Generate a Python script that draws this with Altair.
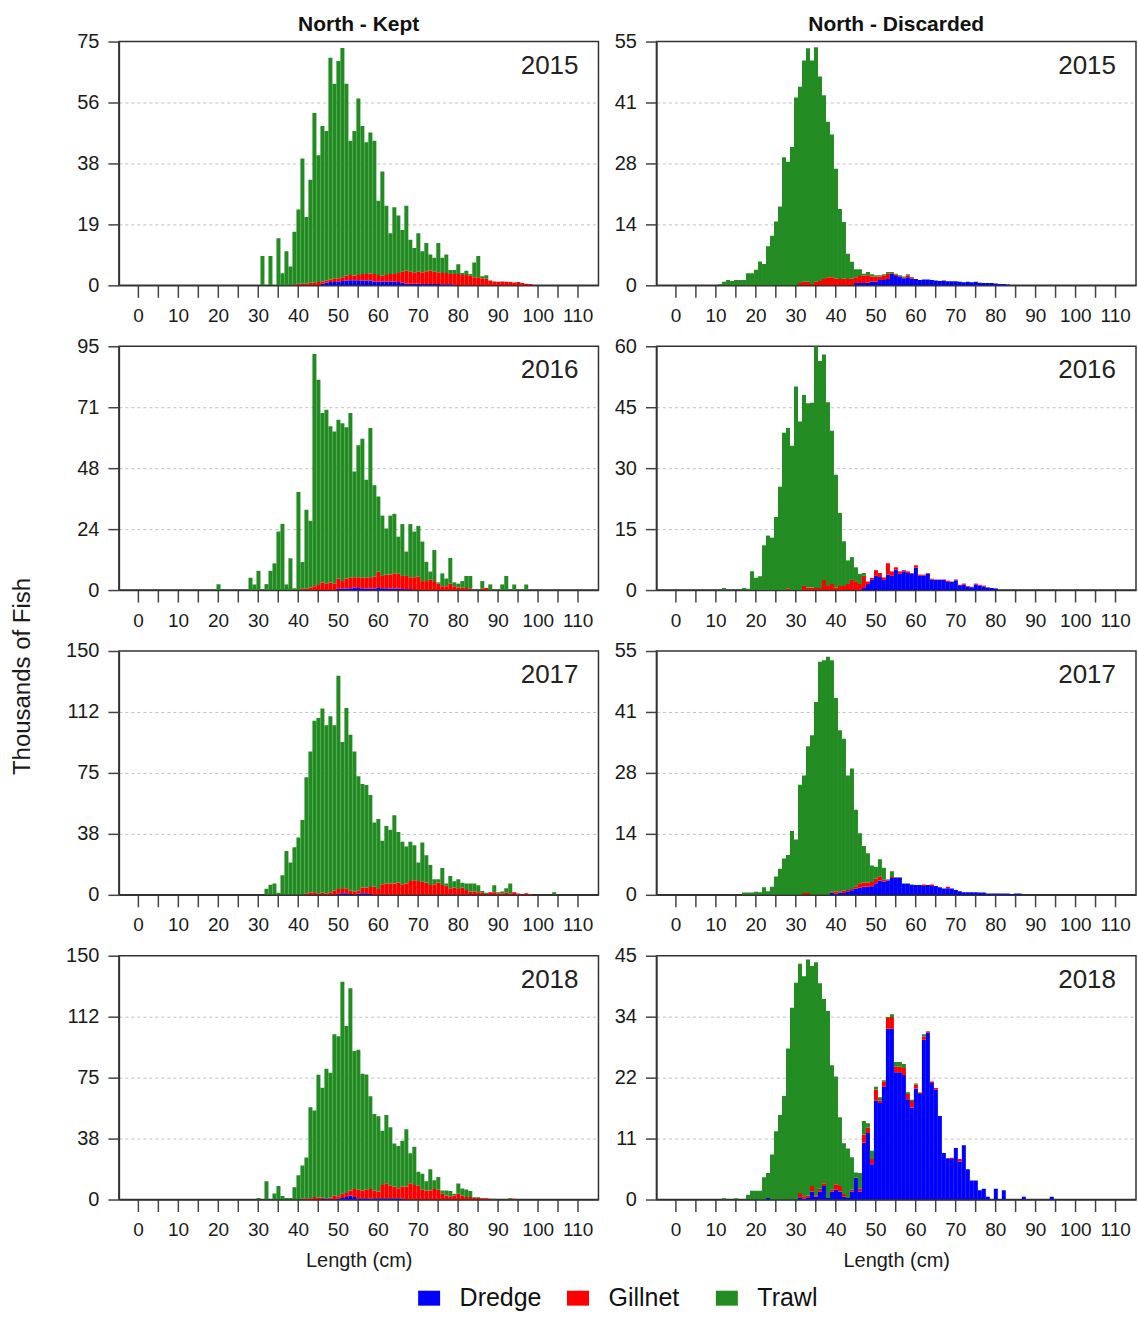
import altair as alt
import pandas as pd

GEARS = ["Dredge", "Gillnet", "Trawl"]
GEAR_COLORS = ["#0000ff", "#ff0000", "#228b22"]
X_TICKS = list(range(0, 115, 5))

# ---------------- North - Kept 2015 (lengths 31..98 cm) ----------------
KEPT_2015_START = 31
KEPT_2015_DREDGE = [0, 0, 0, 0, 0, 0, 0, 0, 0, 0,
                    0, 0, 0, 0, 0, 0.5, 0.8, 1.0, 1.0, 1.2,
                    1.3, 1.5, 1.6, 1.6, 1.6, 1.5, 1.4, 1.5, 1.2, 1.2,
                    1.2, 1.2, 1.2, 1.2, 1.0, 0.8, 0.6, 0.5, 0.5, 0.5,
                    0.4, 0.4, 0.4, 0.4, 0.4, 0.3, 0.3, 0.3, 0.2, 0,
                    0, 0, 0, 0, 0, 0, 0, 0, 0, 0,
                    0, 0, 0, 0, 0, 0, 0, 0]
KEPT_2015_GILLNET = [0, 0, 0, 0, 0, 0, 0, 0, 0.3, 0.5,
                     0.5, 0.6, 0.8, 0.8, 1.0, 0.7, 0.7, 0.8, 1.0, 1.0,
                     1.2, 1.5, 1.6, 1.4, 1.6, 2.0, 2.1, 2.1, 2.3, 2.0,
                     1.8, 2.0, 2.3, 2.3, 2.8, 3.4, 3.9, 3.7, 3.5, 3.7,
                     3.6, 3.9, 4.1, 3.8, 3.6, 3.5, 3.5, 3.2, 3.3, 3.5,
                     3.2, 3.2, 3.0, 2.5, 2.5, 2.2, 2.0, 1.5, 1.2, 1.1,
                     1.2, 1.1, 1.0, 0.9, 1.0, 0.7, 0.5, 0.4]
KEPT_2015_TRAWL = [9, 0, 9, 0, 14.5, 3.7, 10.5, 5.8, 16.2, 22.8,
                   38.5, 20.4, 31.7, 52.2, 39, 47.8, 46, 68.2, 60, 66.8,
                   70.5, 59, 41.3, 44.5, 54.3, 45.5, 40.5, 43.4, 41, 22.8,
                   32, 21.3, 12.5, 20.5, 17.7, 12.8, 20, 9.8, 7.5, 11.8,
                   6.5, 8.7, 5.0, 4.3, 9.0, 4.7, 5.7, 1.2, 1.2, 3.0,
                   0.6, 1.3, 0.5, 4.5, 6.5, 0.6, 1.1, 0, 0, 0,
                   0, 0, 0, 0, 0, 0, 0, 0]

# ---------------- North - Discarded 2015 (lengths 11..83 cm) ----------------
DISC_2015_START = 11
DISC_2015_DREDGE = [0] * 34 + [0.5, 0.5, 0.5, 0.6, 0.8, 0.8,
                               1.2, 1.2, 1.4, 2.6, 2.1, 2.0, 1.6, 1.8, 1.5, 1.4,
                               1.2, 1.3, 1.3, 1.2, 1.1, 1.0, 1.1, 0.9, 0.9, 0.9,
                               0.8, 0.7, 0.8, 0.7, 0.8, 0.6, 0.5, 0.5, 0.5, 0.4,
                               0.3, 0.3, 0.2]
DISC_2015_GILLNET = [0] * 20 + [0.5, 0.8, 0.8, 0.3, 0.8, 1.0, 1.4, 1.8, 1.8, 1.5,
                                1.4, 1.5, 1.4, 1.5, 1.3, 1.6, 1.7, 1.7, 1.2, 1.2,
                                0.8, 1.1, 1.2, 0.2, 0.3, 0.1, 0.2, 0.5, 0.3, 0] + [0] * 23
DISC_2015_TRAWL = [0.3, 0.8, 1.2, 1.0, 1.2, 1.2, 1.2, 2.7, 2.7, 3.5,
                   5.4, 4.8, 8.8, 11.2, 14.4, 17.8, 28.9, 27.9, 31.2, 42.4,
                   44.3, 49.9, 52.7, 50.4, 52.9, 46.1, 41.5, 35.1, 32.2, 24.8,
                   15.8, 12.8, 5.7, 3.8, 1.8, 1.5, 0.4, 0.7, 0.5, 0.3,
                   0.3, 0.2, 0.4, 0.2, 0.2, 0.2, 0.2, 0.2, 0.1, 0] + [0] * 23

# ---------------- North - Kept 2016 (lengths 20..97 cm) ----------------
KEPT_2016_START = 20
KEPT_2016_DREDGE = [0] * 30 + [0.5, 0.6, 0.6, 0.7, 1.0, 0.8, 0.7, 0.6, 0.6, 0.6,
                               0.8, 0.7, 0.7, 0.6, 0.6, 0.5, 0.4, 0.3, 0.3, 0.2] + [0] * 28
KEPT_2016_GILLNET = [0] * 20 + [0, 0.5, 0.5, 1.0, 1.5, 2.0, 3.0, 2.5, 3.0, 2.5,
                                4.0, 2.9, 3.9, 4.1, 4.0, 4.2, 4.1, 4.2, 4.4, 4.6,
                                6.4, 4.8, 5.3, 5.4, 5.9, 6.0, 5.1, 5.2, 4.7, 4.8,
                                5.2, 3.5, 3.5, 4.0, 3.5, 2.5, 1.5, 1.5, 2.5, 1.5,
                                1.0, 1.0, 0.8, 0.5, 0, 0, 0.5, 0.8, 0, 0] + [0] * 8
KEPT_2016_TRAWL = [2.3, 0, 0, 0, 0, 0, 0, 0, 4.8, 2.2,
                   7.5, 0, 2.3, 7.5, 10.4, 22.8, 25.8, 2.2, 12.4, 0.7,
                   38.2, 10.4, 30.8, 26, 90.5, 80, 66, 67.8, 60.8, 59.3,
                   61.9, 61.5, 58.9, 64.2, 41.2, 51.4, 54.2, 38.2, 58.2, 35.6,
                   29.3, 23.5, 18, 23, 23.2, 14.3, 20.2, 9.5, 20.7, 17.8,
                   19.8, 15.4, 7.5, 3.2, 12.1, 0.5, 5.0, 3.0, 10, 1.5,
                   1.5, 2.5, 4.7, 5.0, 0, 0, 3.0, 0, 2.2, 0,
                   0, 2.2, 5.5, 0, 2.2, 0, 0, 2.2]

# ---------------- North - Discarded 2016 (lengths 12..80 cm) ----------------
DISC_2016_START = 12
DISC_2016_DREDGE = [0] * 35 + [0.5, 1.5, 2.5, 3.5, 3.2,
                               2.5, 3.8, 3.5, 5.0, 4.0, 4.6, 4.2, 4.0, 5.5, 3.5,
                               3.6, 4.0, 2.6, 2.5, 2.5, 2.5, 2.0, 2.0, 2.4, 1.2,
                               1.3, 0.9, 0.7, 1.4, 1.1, 0.9, 0.6, 0.5, 0.4]
DISC_2016_GILLNET = [0] * 10 + [0, 0, 0, 0, 0, 0, 0.3, 0, 0, 0,
                                1.0, 0.6, 0.6, 0.5, 0.5, 2.5, 1.0, 1.5, 0.6, 1.0,
                                1.0, 1.5, 2.5, 2.0, 1.5, 3.0, 0.6, 0.5, 1.4, 1.0,
                                0.6, 2.8, 1.1, 0.6, 0.6, 0.3, 0.4, 0.2, 0.6, 0.3,
                                0.2, 0.2, 0.2, 0.1, 0.1, 0.1, 0.3, 0.1, 0.2, 0.1,
                                0.3, 0.1, 0.1, 0.2, 0.2, 0.2, 0.1, 0, 0]
DISC_2016_TRAWL = [0.5, 0, 0, 0, 0, 0.5, 0.3, 4.6, 3.0, 3.4,
                   11.0, 13.4, 12.9, 18.0, 25.4, 38.7, 39.6, 35.5, 50.1, 41.5,
                   47, 45.4, 45.5, 59.5, 55.9, 55.5, 45.2, 37.7, 27.8, 18,
                   11, 5.8, 5.6, 3.6, 2.5, 0.7, 0, 0, 0, 0] + [0] * 29

# ---------------- North - Kept 2017 (lengths 32..104 cm) ----------------
KEPT_2017_START = 32
KEPT_2017_DREDGE = [0] * 18 + [0.6, 1.0, 1.0, 0.5, 0, 0.8, 1.0, 1.0, 0.5] + [0] * 46
KEPT_2017_GILLNET = [0] * 10 + [1.0, 1.2, 1.5, 1.0, 1.2, 1.0, 1.5, 2.5, 2.9, 2.5,
                                3.0, 2.0, 2.0, 1.7, 3.5, 3.5, 4.3, 5.0, 3.5, 6.5,
                                7.0, 7.0, 7.0, 7.5, 6.5, 7.0, 8.5, 9.0, 8.5, 8.0,
                                7.5, 6.0, 6.5, 7.5, 6.0, 5.5, 4.0, 4.5, 3.5, 4.5,
                                3.0, 2.0, 2.0, 1.5, 1.5, 0.5, 1.5, 1.5, 1.0, 1.0,
                                1.2, 1.0, 1.5, 0.8, 0.5, 1.0, 0.5, 0, 0, 0,
                                0, 0, 0]
KEPT_2017_TRAWL = [3.7, 6.2, 7.0, 1.2, 12, 27, 19.8, 29.3, 35.2, 46,
                   71.3, 87, 105.6, 107.8, 113.4, 103.3, 108.3, 101.8, 131.3, 90.5,
                   111, 96, 86.2, 70.4, 63.7, 63.1, 56.6, 39.5, 43.1, 26.7,
                   35.4, 33, 42, 31.2, 26.1, 22.7, 24.1, 21.5, 11.3, 24.1,
                   16.8, 12.3, 3.0, 2.0, 10.5, 1.5, 7.5, 3.9, 6.0, 2.9,
                   4.0, 5.0, 5.0, 4.3, 0.8, 0.7, 0, 4.3, 0.6, 1.0,
                   2.9, 6.0, 0.1, 0, 0, 0, 0, 0, 0, 0,
                   0, 0, 1.6]

# ---------------- North - Discarded 2017 (lengths 17..86 cm) ----------------
DISC_2017_START = 17
DISC_2017_DREDGE = [0] * 22 + [0.5, 0.3, 0.5, 0.4, 0.8, 1.0, 1.4, 1.6,
                               1.8, 1.8, 1.9, 2.6, 3.2, 3.0, 3.2, 3.8, 3.8, 3.8,
                               2.5, 2.5, 2.2, 2.2, 2.2, 2.0, 2.2, 2.0, 2.0, 1.7,
                               1.4, 1.5, 1.4, 1.1, 0.8, 0.6, 0.6, 0.6, 0.6, 0.5,
                               0.5, 0.3, 0.3, 0.3, 0.3, 0.3, 0.3, 0.2, 0.3, 0.3]
DISC_2017_GILLNET = [0] * 10 + [0, 0, 0, 0, 0, 0.4, 0.4, 0, 0, 0,
                                0, 0, 0.3, 0.4, 0.3, 0.5, 0.3, 0.3, 0.5, 1.0,
                                1.0, 1.0, 1.0, 1.0, 1.0, 0.4, 0.2, 0.2, 0.1, 0.1,
                                0, 0, 0, 0, 0, 0.3, 0, 0.3, 0, 0,
                                0, 0.3, 0, 0, 0, 0, 0, 0, 0, 0] + [0] * 10
DISC_2017_TRAWL = [0.5, 0.5, 0.5, 0.7, 0.6, 1.7, 0.8, 1.8, 4.1, 5.9,
                   8.2, 9.0, 14.4, 12.5, 24.8, 26.5, 33.1, 36, 43.5, 52.6,
                   52.9, 53.7, 52.1, 43.7, 36.3, 34.3, 25.8, 27.2, 17.3, 11.3,
                   8.2, 6.6, 3.7, 2.7, 3.8, 2.7, 0.1, 1.3, 0.1, 0.1,
                   0.1, 0.1, 0.1, 0, 0, 0, 0, 0, 0, 0] + [0] * 20

# ---------------- North - Kept 2018 (lengths 30..94 cm) ----------------
KEPT_2018_START = 30
KEPT_2018_DREDGE = [0] * 16 + [0.3, 0.4, 0.4, 0,
                               0.6, 1.0, 1.5, 2.5, 1.5, 0.8, 0.8, 0.8, 0.6, 0.8,
                               0.8, 0.8, 0.8, 0.8, 0.8, 0.8, 0.6] + [0] * 28
KEPT_2018_GILLNET = [0] * 10 + [0, 0.6, 0.8, 0.8, 1.5, 1.3, 0.9, 0.4, 0.8, 2.5,
                                1.4, 2.5, 2.5, 3.0, 5.0, 5.2, 4.7, 5.2, 5.9, 4.7,
                                4.2, 8.2, 9.2, 7.7, 7.2, 6.2, 7.4, 8.0, 10.0, 9.0,
                                8.5, 6.0, 5.5, 5.5, 6.5, 6.0, 3.5, 2.5, 2.0, 2.5,
                                3.5, 2.5, 1.5, 1.5, 1.0, 1.0, 0.8, 0.8, 0.5, 0,
                                0, 0, 0, 0.5, 0.5]
KEPT_2018_TRAWL = [1.0, 0, 11.3, 0, 3.7, 8.3, 2.1, 1.0, 1.0, 7.6,
                   15, 20.4, 25, 55.9, 53.2, 75.4, 67.5, 79.7, 76.8, 99.2,
                   98.5, 130.5, 102.7, 124.5, 84.9, 86.2, 71.9, 71, 57, 47.1,
                   46.2, 33.3, 42, 35.9, 26.5, 26, 28.1, 35.3, 18.5, 23.4,
                   8.6, 9.9, 5.8, 13.1, 5.3, 7.8, 2.1, 3.1, 3.2, 1.0,
                   6.4, 4.3, 4.7, 3.7, 0.4, 0.4, 0.2, 0, 0, 0.5,
                   0, 0, 0, 0.5, 0]

# ---------------- North - Discarded 2018 (lengths 12..94 cm) ----------------
DISC_2018_START = 12
DISC_2018_DREDGE = [0] * 10 + [0, 0.3, 0, 0, 0, 0, 0, 0, 0, 0.4,
                               0.2, 0.4, 1.5, 0.5, 1.5, 2.5, 0.3, 1.5, 1.8, 1.5,
                               0.5, 0.3, 1.5, 4.0, 1.5, 10.5, 12.3, 6.5, 18.3, 17.8,
                               20.8, 31.5, 31.5, 23.5, 23.5, 23.0, 18.5, 17.0, 20.5, 19.5,
                               29.5, 30.8, 21.5, 20.3, 15.4, 8.6, 7.6, 7.5, 9.5, 7.0,
                               10.0, 5.6, 3.5, 3.5, 1.7, 2.0, 0.5, 0, 2.0, 0,
                               1.7, 0, 0, 0, 0, 0.5, 0, 0, 0, 0,
                               0, 0, 0.5]
DISC_2018_GILLNET = [0] * 10 + [0, 0, 0, 0, 0, 0, 0, 0, 0, 0.8,
                                0.4, 0.3, 1.0, 0.3, 0.5, 0.5, 0, 0.3, 1.0, 1.0,
                                0.5, 0, 0.3, 0, 0.5, 1.5, 1.0, 1.0, 2.0, 0.5,
                                1.0, 2.0, 2.2, 1.0, 1.0, 1.3, 1.0, 1.2, 0.7, 0.2,
                                0.6, 0.2, 0.3, 0.3, 0, 0, 0, 0.2, 0, 0.5] + [0] * 23
DISC_2018_TRAWL = [0.25, 0, 0, 0.25, 0, 0, 0.9, 1.6, 1.6, 1.6,
                   4.1, 4.6, 8.3, 12.6, 15.6, 19.1, 27.9, 35.4, 40.0, 42.3,
                   40.6, 43.6, 40.6, 43.0, 37.9, 34, 34.5, 23.0, 19.9, 12.7,
                   9.4, 9.1, 6.0, 1.0, 2.9, 2.5, 0.8, 1.5, 0.5, 0.6,
                   0.2, 0.2, 0.5, 0.9, 0.9, 0.7, 0.3, 0.2, 0.2, 0.1,
                   0.4, 0.1] + [0] * 31

# panel: (column title, year, y max, start length, dredge, gillnet, trawl)
PANELS = [
    ("North - Kept", 2015, 75, KEPT_2015_START, KEPT_2015_DREDGE, KEPT_2015_GILLNET, KEPT_2015_TRAWL),
    ("North - Discarded", 2015, 55, DISC_2015_START, DISC_2015_DREDGE, DISC_2015_GILLNET, DISC_2015_TRAWL),
    ("North - Kept", 2016, 95, KEPT_2016_START, KEPT_2016_DREDGE, KEPT_2016_GILLNET, KEPT_2016_TRAWL),
    ("North - Discarded", 2016, 60, DISC_2016_START, DISC_2016_DREDGE, DISC_2016_GILLNET, DISC_2016_TRAWL),
    ("North - Kept", 2017, 150, KEPT_2017_START, KEPT_2017_DREDGE, KEPT_2017_GILLNET, KEPT_2017_TRAWL),
    ("North - Discarded", 2017, 55, DISC_2017_START, DISC_2017_DREDGE, DISC_2017_GILLNET, DISC_2017_TRAWL),
    ("North - Kept", 2018, 150, KEPT_2018_START, KEPT_2018_DREDGE, KEPT_2018_GILLNET, KEPT_2018_TRAWL),
    ("North - Discarded", 2018, 45, DISC_2018_START, DISC_2018_DREDGE, DISC_2018_GILLNET, DISC_2018_TRAWL),
]

W, H = 480, 244
FONT = "Liberation Sans"

legend = alt.Legend(
    title=None, orient="none", legendX=298, legendY=1245, direction="horizontal",
    columns=3, gridAlign="all", symbolType="M-1,-0.68H1V0.68H-1Z", symbolSize=484,
    symbolStrokeWidth=0, labelFontSize=25, labelOffset=18, columnPadding=24,
    labelColor="#111", padding=0, labelFont=FONT,
)

ylabel_expr = ("(datum.value % 1 == 0.5 && floor(datum.value) % 2 == 0) ? "
               "'' + floor(datum.value) : '' + round(datum.value)")


def make_panel(i, title, year, ymax, start, dredge, gillnet, trawl):
    rows = []
    for k in range(len(trawl)):
        for gear, arr in zip(GEARS, (dredge, gillnet, trawl)):
            rows.append({"length": start + k, "gear": gear, "value": arr[k]})
    df = pd.DataFrame(rows)

    bottom = i >= 6
    xaxis = alt.Axis(
        values=X_TICKS, labelExpr="datum.value % 10 == 0 ? '' + datum.value : ''",
        tickSize=12, labelPadding=9, labelFontSize=19, labelOverlap=False, labelFlush=False,
        grid=False, title="Length (cm)" if bottom else None, titleFontSize=20,
        titleFontWeight="normal", titleY=61, titleBaseline="middle",
    )
    yvals = [0, ymax / 4, ymax / 2, 3 * ymax / 4, ymax]
    ykw = dict(
        values=yvals, labelExpr=ylabel_expr, tickSize=11, labelPadding=9, labelFontSize=20,
        labelOverlap=False, labelFlush=False, grid=True, gridDash=[3, 3], gridColor="#c0c0c0",
        gridOpacity={"condition": {"test": f"datum.value == 0 || datum.value == {ymax}", "value": 0},
                     "value": 1},
    )
    if i == 4:
        ykw.update(title="Thousands of Fish", titleFontSize=24, titleFontWeight="normal",
                   titleX=-96, titleY=25, titleAngle=270, titleAlign="center",
                   titleBaseline="middle")
    else:
        ykw.update(title=None)
    yaxis = alt.Axis(**ykw)

    bars = alt.Chart(df).transform_filter("datum.value > 0").transform_calculate(
        lo="datum.length - 0.5", hi="datum.length + 0.5",
        ord="indexof(['Dredge','Gillnet','Trawl'], datum.gear)",
    ).mark_bar(binSpacing=0, clip=True).encode(
        x=alt.X("lo:Q", bin="binned", scale=alt.Scale(domain=[-4.8, 115.2], nice=False, zero=False),
                axis=xaxis),
        x2="hi:Q",
        y=alt.Y("value:Q", stack="zero", scale=alt.Scale(domain=[0, ymax], nice=False), axis=yaxis),
        color=alt.Color("gear:N", scale=alt.Scale(domain=GEARS, range=GEAR_COLORS), legend=legend),
        order=alt.Order("ord:Q", sort="ascending"),
    )
    txt = alt.Chart(pd.DataFrame({"year": [str(year)]})).mark_text(
        align="right", baseline="middle", fontSize=26, color="#222", font=FONT,
    ).encode(x=alt.value(W - 20), y=alt.value(24), text="year:N")

    props = dict(width=W, height=H)
    if i < 2:
        props["title"] = alt.TitleParams(title, fontSize=21, fontWeight="bold", anchor="middle",
                                         offset=-3, color="#111", font=FONT)
    return alt.layer(bars, txt).properties(**props)


panels = [make_panel(i, *p) for i, p in enumerate(PANELS)]

chart = alt.concat(
    *panels, columns=2, spacing={"row": 61, "column": 58}, bounds="flush"
).properties(
    padding={"left": 10, "top": 12, "right": 1, "bottom": 2}
).configure(
    font=FONT
).configure_view(
    stroke="#333", strokeWidth=1.5
).configure_axis(
    domainColor="#333", domainWidth=1.5, tickColor="#444", tickWidth=1.5,
    labelColor="#1a1a1a", titleColor="#1a1a1a", labelFont=FONT, titleFont=FONT,
)

chart.save("out.html", embed_options={"renderer": "svg", "actions": False})
